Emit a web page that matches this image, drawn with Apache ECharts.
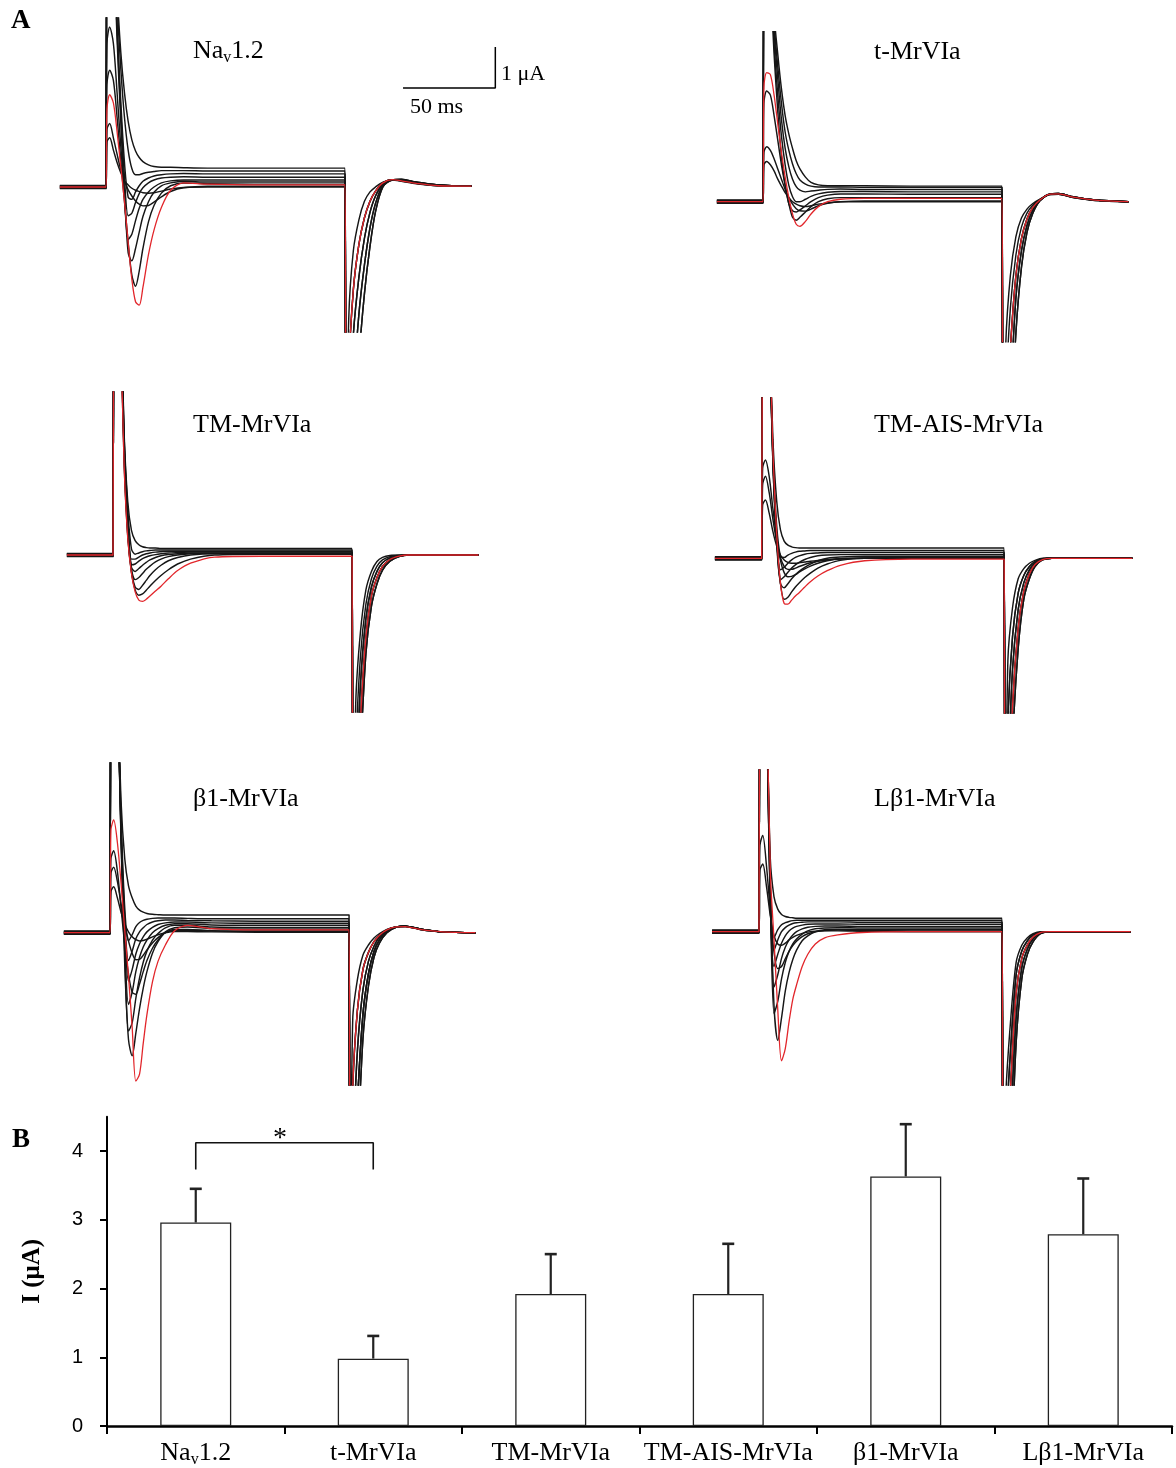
<!DOCTYPE html>
<html><head><meta charset="utf-8">
<script src="https://cdn.jsdelivr.net/npm/echarts@6/dist/echarts.min.js"></script>
<style>html,body{margin:0;padding:0;background:#fff;}#c{width:1176px;height:1468px;}</style>
</head><body><div id="c"></div>
<script>
// ================= DATA =================
// time grid (ms, 0 = onset of test pulse)
const EARLY_T = [-25, 0, 0.5, 2, 4, 6, 8, 10, 12, 14, 16, 18, 20, 23, 26, 30, 35, 42, 55, 80, 129.5];
const TAIL_T = [130, 131.5, 134, 137, 140, 143, 146, 150, 155, 160, 168, 180, 198];

// currents in µA
const nav12Black = [
 [0.03,0.03, 1.1,1.2,0.9,0.6,0.35,0.15,0.05,-0.03,-0.08,-0.11,-0.14,-0.15,-0.14,-0.1,-0.05,-0.01,0,0,0],
 [-0.03,-0.03, 1.4,1.55,1.2,0.8,0.42,0.15,-0.07,-0.22,-0.34,-0.42,-0.46,-0.45,-0.37,-0.24,-0.11,-0.02,0.02,0.02,0.02],
 [0.015,0.015, 2.5,2.85,2.6,1.7,0.65,-0.35,-1.35,-2.15,-2.42,-2.05,-1.5,-0.85,-0.45,-0.15,0.03,0.1,0.08,0.07,0.07],
 [-0.015,-0.015, 3.5,3.9,3.5,2.3,1.0,-0.15,-1.6,-1.8,-1.5,-1.1,-0.72,-0.36,-0.13,0.03,0.1,0.14,0.12,0.12,0.12],
 [0.04,0.04, 8,8,6.1,3.6,1.6,-0.2,-1.28,-1.15,-0.82,-0.52,-0.3,-0.12,0,0.1,0.15,0.17,0.17,0.17,0.17],
 [0,0, 8,8,6.3,3.8,1.85,0.25,-0.7,-0.64,-0.38,-0.16,-0.02,0.1,0.17,0.22,0.24,0.25,0.24,0.24,0.24],
 [-0.04,-0.04, 8,8,6.5,4,2.1,0.6,-0.25,-0.3,-0.12,0.03,0.14,0.22,0.27,0.3,0.32,0.33,0.32,0.32,0.32],
 [0.02,0.02, 8,8,6.8,4.5,2.9,1.7,0.9,0.45,0.3,0.3,0.33,0.36,0.38,0.4,0.4,0.4,0.39,0.39,0.39],
 [-0.02,-0.02, 8,8,7,4.8,3.3,2.3,1.6,1.15,0.88,0.72,0.62,0.54,0.5,0.48,0.48,0.47,0.46,0.46,0.46]
];
const nav12Red = [0,0, 1.9,2.25,2.05,1.35,0.5,-0.35,-1.35,-2.25,-2.8,-2.88,-2.45,-1.65,-1.05,-0.5,-0.08,0.1,0.07,0.05,0.05];
const nav12Tails = [
 [-8,-3.2,-1.55,-0.8,-0.35,-0.12,0,0.12,0.17,0.14,0.08,0.03,0.02],
 [-8,-4.5,-2.5,-1.4,-0.75,-0.35,-0.1,0.1,0.18,0.15,0.09,0.03,0.02],
 [-8,-6,-3.6,-2.2,-1.25,-0.62,-0.22,0.07,0.18,0.17,0.1,0.04,0.02],
 [-8,-7.2,-5,-3.1,-1.9,-1,-0.4,0.04,0.18,0.18,0.11,0.05,0.02],
 [-8,-8,-6.5,-4.2,-2.6,-1.45,-0.6,0,0.17,0.19,0.12,0.05,0.02]
];
const nav12TailOf = [0,4,1,3,2,4,3,2,1];
const nav12RedTail = 1;

const tMrBlack = [
 [0.03,0.03, 0.9,0.98,0.9,0.75,0.55,0.38,0.22,0.1,0,-0.06,-0.1,-0.12,-0.1,-0.06,-0.03,0,0,0,0],
 [-0.03,-0.03, 1.2,1.34,1.25,1.05,0.8,0.55,0.3,0.1,-0.06,-0.17,-0.22,-0.23,-0.18,-0.1,-0.04,0,0.02,0.02,0.02],
 [0.015,0.015, 2.4,2.7,2.6,2.1,1.5,0.9,0.4,-0.05,-0.38,-0.45,-0.38,-0.25,-0.12,0,0.07,0.1,0.1,0.1,0.1],
 [-0.015,-0.015, 8,8,5.5,3.6,2.2,1.1,0.4,-0.05,-0.22,-0.25,-0.2,-0.1,0,0.1,0.16,0.19,0.19,0.18,0.18],
 [0.04,0.04, 8,8,6,3.9,2.6,1.6,0.9,0.4,0.12,0,0,0.06,0.13,0.19,0.23,0.25,0.25,0.24,0.24],
 [0,0, 8,8,6.5,4.2,3,2,1.3,0.85,0.55,0.37,0.28,0.24,0.26,0.28,0.3,0.31,0.3,0.3,0.3],
 [-0.04,-0.04, 8,8,7,4.4,3.3,2.4,1.7,1.25,0.92,0.68,0.53,0.43,0.38,0.36,0.36,0.36,0.35,0.35,0.35],
 [0.02,0.02, 8,8,7.5,4.6,3.6,2.75,2.1,1.65,1.3,1,0.8,0.6,0.47,0.41,0.39,0.39,0.39,0.38,0.38]
];
const tMrRed = [0,0, 2.8,3.15,3.1,2.6,1.9,1.2,0.6,0.1,-0.3,-0.55,-0.6,-0.48,-0.3,-0.12,0,0.06,0.08,0.08,0.08];
const tMrTails = [
 [-8,-3.5,-1.8,-0.85,-0.4,-0.18,-0.05,0.06,0.17,0.18,0.1,0.03,0],
 [-8,-4.8,-2.6,-1.3,-0.62,-0.28,-0.09,0.05,0.17,0.18,0.1,0.03,0],
 [-8,-6,-3.6,-1.8,-0.9,-0.42,-0.15,0.04,0.18,0.19,0.11,0.04,0],
 [-8,-7.3,-4.8,-2.35,-1.2,-0.58,-0.22,0.03,0.18,0.2,0.12,0.04,0],
 [-8,-8,-6,-3.2,-1.6,-0.75,-0.3,0.02,0.18,0.2,0.12,0.04,0]
];
const tMrTailOf = [0,4,1,3,2,4,3,2];
const tMrRedTail = 2;

const tmBlack = [
 [0.03,0.03, 8,8,6.5,3,1.3,0.6,0.35,0.25,0.2,0.18,0.17,0.17,0.16,0.16,0.16,0.16,0.16,0.16,0.16],
 [-0.03,-0.03, 8,8,6.4,2.9,1.1,0.15,0.02,0.05,0.08,0.1,0.11,0.12,0.12,0.12,0.12,0.12,0.12,0.12,0.12],
 [0.015,0.015, 8,8,6.3,2.8,0.9,-0.1,-0.1,-0.05,0,0.03,0.05,0.07,0.08,0.09,0.09,0.09,0.09,0.09,0.09],
 [-0.015,-0.015, 8,8,6.2,2.7,0.8,-0.24,-0.22,-0.15,-0.09,-0.05,-0.02,0.01,0.03,0.05,0.06,0.07,0.07,0.07,0.07],
 [0.04,0.04, 8,8,6.1,2.6,0.7,-0.3,-0.4,-0.33,-0.25,-0.18,-0.12,-0.06,-0.02,0.01,0.03,0.05,0.05,0.05,0.05],
 [0,0, 8,8,6,2.5,0.6,-0.35,-0.6,-0.55,-0.45,-0.35,-0.27,-0.17,-0.1,-0.04,0,0.03,0.04,0.04,0.04],
 [-0.04,-0.04, 8,8,5.9,2.4,0.5,-0.4,-0.78,-0.84,-0.74,-0.62,-0.5,-0.36,-0.25,-0.14,-0.06,0,0.03,0.03,0.03],
 [0.02,0.02, 8,8,5.8,2.3,0.45,-0.42,-0.85,-0.98,-0.95,-0.86,-0.76,-0.62,-0.5,-0.36,-0.22,-0.1,0,0.02,0.02]
];
const tmRed = [0,0, 8,8,5.7,2.2,0.4,-0.45,-0.9,-1.1,-1.13,-1.08,-1,-0.88,-0.76,-0.58,-0.38,-0.2,-0.05,-0.03,-0.03];
const tmTails = [
 [-8,-3.6,-1.9,-0.85,-0.4,-0.16,-0.06,-0.01,0,0,0,0,0],
 [-8,-4.8,-2.5,-1.2,-0.58,-0.27,-0.12,-0.04,-0.01,0,0,0,0],
 [-8,-6,-3.2,-1.55,-0.78,-0.4,-0.19,-0.07,-0.02,0,0,0,0],
 [-8,-7.2,-4.1,-2,-1,-0.55,-0.28,-0.11,-0.03,0,0,0,0],
 [-8,-8,-5,-2.4,-1.25,-0.7,-0.37,-0.15,-0.04,0,0,0,0]
];
const tmTailOf = [0,4,1,3,2,4,3,2];
const tmRedTail = 3;

const aisBlack = [
 [0.03,0.03, 1.3,1.42,1.1,0.65,0.3,0.08,-0.04,-0.1,-0.12,-0.12,-0.11,-0.09,-0.07,-0.05,-0.03,-0.01,0,0,0],
 [-0.03,-0.03, 1.8,2,1.6,0.95,0.4,0.02,-0.2,-0.27,-0.27,-0.24,-0.2,-0.15,-0.11,-0.07,-0.04,-0.01,0,0,0],
 [0.015,0.015, 2.2,2.4,2,1.2,0.5,-0.05,-0.35,-0.45,-0.44,-0.4,-0.34,-0.26,-0.19,-0.12,-0.06,-0.02,0,0,0],
 [-0.015,-0.015, 8,8,5.9,2.5,0.5,-0.6,-1,-0.95,-0.82,-0.7,-0.6,-0.47,-0.36,-0.24,-0.14,-0.05,0.01,0.02,0.02],
 [0.04,0.04, 8,8,5.8,2.4,0.45,-0.62,-0.72,-0.62,-0.5,-0.4,-0.32,-0.22,-0.14,-0.06,0,0.03,0.05,0.05,0.05],
 [0,0, 8,8,5.7,2.3,0.4,-0.52,-0.45,-0.34,-0.24,-0.16,-0.1,-0.03,0.02,0.06,0.08,0.09,0.09,0.09,0.09],
 [-0.04,-0.04, 8,8,5.6,2.3,0.5,-0.28,-0.22,-0.12,-0.04,0.02,0.06,0.1,0.12,0.13,0.14,0.14,0.14,0.14,0.14],
 [0.02,0.02, 8,8,5.6,2.4,0.8,0.05,0.02,0.08,0.12,0.15,0.17,0.18,0.19,0.19,0.19,0.19,0.19,0.19,0.19],
 [-0.02,-0.02, 8,8,5.8,2.9,1.4,0.7,0.42,0.32,0.28,0.26,0.25,0.25,0.25,0.25,0.25,0.25,0.25,0.25,0.25]
];
const aisRed = [0,0, 8,8,6,2.6,0.6,-0.6,-1.1,-1.12,-1.02,-0.92,-0.84,-0.7,-0.57,-0.43,-0.3,-0.17,-0.06,-0.02,-0.02];
const aisTails = [
 [-8,-2.5,-1.2,-0.5,-0.25,-0.12,-0.05,0,0,0,0,0,0],
 [-8,-4,-1.9,-0.85,-0.42,-0.2,-0.08,-0.01,0,0,0,0,0],
 [-8,-5.5,-2.7,-1.25,-0.6,-0.28,-0.11,-0.02,0,0,0,0,0],
 [-8,-7,-3.6,-1.7,-0.8,-0.38,-0.15,-0.03,0,0,0,0,0],
 [-8,-8,-4.5,-2.2,-1,-0.5,-0.2,-0.04,0,0,0,0,0]
];
const aisTailOf = [0,4,1,3,2,4,3,2,1];
const aisRedTail = 3;

const b1Black = [
 [0.03,0.03, 1,1.12,0.85,0.5,0.22,0.02,-0.1,-0.17,-0.2,-0.19,-0.16,-0.1,-0.05,0,0.03,0.03,0.02,0.01,0.01],
 [-0.03,-0.03, 1.45,1.6,1.25,0.7,0.2,-0.2,-0.5,-0.66,-0.65,-0.55,-0.42,-0.25,-0.12,0,0.06,0.06,0.04,0.03,0.03],
 [0.015,0.015, 1.8,2,1.5,0.6,-0.3,-1,-1.45,-1.5,-1.25,-0.95,-0.68,-0.38,-0.18,0,0.08,0.08,0.05,0.04,0.04],
 [-0.015,-0.015, 8,8,6,2.2,-0.8,-2.6,-3.0,-2.45,-1.85,-1.35,-0.95,-0.5,-0.22,0.02,0.12,0.14,0.1,0.09,0.09],
 [0.04,0.04, 8,8,6,2.3,-0.5,-2.4,-2.2,-1.6,-1.1,-0.72,-0.45,-0.18,-0.02,0.12,0.18,0.18,0.14,0.13,0.13],
 [0,0, 8,8,6,2.4,-0.2,-1.75,-1.45,-0.95,-0.6,-0.35,-0.18,0,0.1,0.18,0.22,0.22,0.19,0.18,0.18],
 [-0.04,-0.04, 8,8,6,2.5,0.1,-1.18,-0.9,-0.52,-0.27,-0.1,0.02,0.13,0.2,0.24,0.26,0.26,0.24,0.23,0.23],
 [0.02,0.02, 8,8,6,2.6,0.35,-0.68,-0.45,-0.15,0.02,0.12,0.2,0.26,0.29,0.31,0.31,0.3,0.29,0.28,0.28],
 [0,0, 8,8,6,2.8,0.6,-0.2,-0.05,0.15,0.25,0.3,0.33,0.35,0.36,0.36,0.36,0.35,0.34,0.34,0.34],
 [-0.02,-0.02, 8,8,6.3,3.2,1.8,1.15,0.85,0.65,0.55,0.5,0.47,0.45,0.44,0.43,0.43,0.43,0.43,0.43,0.43]
];
const b1Red = [0,0, 2.5,2.75,2.2,1.2,0.05,-1.05,-2.3,-3.62,-3.45,-2.7,-2,-1.2,-0.7,-0.3,0.05,0.18,0.1,0.07,0.07];
const b1Tails = [
 [-8,-2.1,-1.15,-0.55,-0.3,-0.13,-0.02,0.08,0.14,0.15,0.08,0.02,0],
 [-8,-3.8,-1.9,-0.9,-0.48,-0.22,-0.06,0.07,0.14,0.15,0.08,0.02,0],
 [-8,-5.5,-2.9,-1.4,-0.7,-0.33,-0.1,0.05,0.14,0.16,0.09,0.02,0],
 [-8,-7.2,-4.2,-2,-1,-0.46,-0.17,0.03,0.14,0.16,0.09,0.02,0],
 [-8,-8,-5.5,-2.6,-1.3,-0.6,-0.25,0,0.13,0.16,0.09,0.02,0]
];
const b1TailOf = [0,4,1,3,2,4,3,2,1,3];
const b1RedTail = 1;

const lb1Black = [
 [0.03,0.03, 1.5,1.65,1.1,0.4,-0.1,-0.3,-0.33,-0.28,-0.2,-0.14,-0.09,-0.04,-0.01,0.01,0.02,0.02,0.01,0,0],
 [-0.03,-0.03, 2.1,2.35,1.6,0.5,-0.5,-0.9,-0.85,-0.66,-0.48,-0.34,-0.23,-0.12,-0.05,0,0.03,0.04,0.03,0.02,0.02],
 [0.015,0.015, 8,8,5.8,1.2,-1.8,-2.65,-2.1,-1.45,-1,-0.68,-0.45,-0.22,-0.1,0,0.05,0.06,0.05,0.05,0.05],
 [-0.015,-0.015, 8,8,5.7,1,-2,-1.7,-1.15,-0.75,-0.48,-0.3,-0.18,-0.06,0.02,0.07,0.09,0.1,0.09,0.09,0.09],
 [0.04,0.04, 8,8,5.6,0.9,-1.35,-1.05,-0.65,-0.38,-0.2,-0.08,0,0.07,0.11,0.13,0.14,0.14,0.13,0.13,0.13],
 [0,0, 8,8,5.5,0.7,-0.85,-0.55,-0.28,-0.1,0.02,0.09,0.13,0.16,0.18,0.19,0.19,0.19,0.18,0.18,0.18],
 [-0.04,-0.04, 8,8,5.5,0.8,-0.45,-0.2,0,0.1,0.16,0.2,0.22,0.23,0.24,0.24,0.24,0.24,0.23,0.23,0.23],
 [0.02,0.02, 8,8,5.5,1,-0.15,0.05,0.17,0.22,0.25,0.27,0.28,0.28,0.28,0.28,0.28,0.28,0.28,0.28,0.28],
 [-0.02,-0.02, 8,8,5.7,1.8,0.85,0.55,0.42,0.37,0.35,0.34,0.33,0.33,0.33,0.33,0.33,0.33,0.33,0.33,0.33]
];
const lb1Red = [0,0, 8,8,6,1.5,-0.2,-1.9,-3.15,-2.85,-2.2,-1.65,-1.3,-0.85,-0.55,-0.3,-0.15,-0.08,-0.02,0,0];
const lb1Tails = [
 [-8,-4,-2.2,-0.75,-0.33,-0.15,-0.05,0,0,0,0,0,0],
 [-8,-5,-2.9,-1.05,-0.47,-0.22,-0.08,-0.01,0,0,0,0,0],
 [-8,-6,-3.8,-1.5,-0.65,-0.32,-0.13,-0.02,0,0,0,0,0],
 [-8,-7,-4.8,-2.1,-0.88,-0.42,-0.18,-0.03,0,0,0,0,0],
 [-8,-8,-6,-2.7,-1.15,-0.55,-0.25,-0.05,0,0,0,0,0]
];
const lb1TailOf = [0,4,1,3,2,4,3,2,1];
const lb1RedTail = 2;

// scale bar (panel Na_v1.2)
const scaleBarMs = 50;
const scaleBarUA = 1;

// Panel B
const barCategories = ['Nav1.2', 't-MrVIa', 'TM-MrVIa', 'TM-AIS-MrVIa', 'β1-MrVIa', 'Lβ1-MrVIa'];
const barMeans = [2.96, 0.98, 1.92, 1.92, 3.63, 2.79];
const barSems = [0.49, 0.33, 0.58, 0.73, 0.76, 0.81];
const yTickValues = [0, 1, 2, 3, 4];
const sigFrom = 0, sigTo = 1, sigLeg = 3.73, sigTop = 4.12;

// ================= LAYOUT =================
const PX_PER_UA = 41;
const SERIF = '"Liberation Serif","Times New Roman",serif';
const SANS = '"Liberation Sans",Arial,sans-serif';
const BLACK = '#161616', RED = '#e2262b';

const panels = [
 {title:'{n|Na}{s|v}{n|1.2}', tx:193, ty:51, black:nav12Black, red:nav12Red, tails:nav12Tails, tailOf:nav12TailOf, redTail:nav12RedTail, onset:106, base:187, top:18, bottom:332, pxms:1.846, xmax:213},
 {title:'{n|t-MrVIa}', tx:874, ty:52, black:tMrBlack, red:tMrRed, tails:tMrTails, tailOf:tMrTailOf, redTail:tMrRedTail, onset:763, base:201.7, top:31.7, bottom:341.7, pxms:1.846, xmax:198},
 {title:'{n|TM-MrVIa}', tx:193, ty:425, black:tmBlack, red:tmRed, tails:tmTails, tailOf:tmTailOf, redTail:tmRedTail, onset:113, base:555, top:392, bottom:712, pxms:1.846, xmax:198},
 {title:'{n|TM-AIS-MrVIa}', tx:874, ty:425, black:aisBlack, red:aisRed, tails:aisTails, tailOf:aisTailOf, redTail:aisRedTail, onset:761.7, base:558.3, top:398, bottom:713, pxms:1.872, xmax:198},
 {title:'{n|β1-MrVIa}', tx:193, ty:799, black:b1Black, red:b1Red, tails:b1Tails, tailOf:b1TailOf, redTail:b1RedTail, onset:110, base:932.7, top:763, bottom:1085, pxms:1.846, xmax:198},
 {title:'{n|Lβ1-MrVIa}', tx:874, ty:799, black:lb1Black, red:lb1Red, tails:lb1Tails, tailOf:lb1TailOf, redTail:lb1RedTail, onset:759, base:931.7, top:770, bottom:1085, pxms:1.877, xmax:198}
];

const richText = {
  n: {fontFamily: SERIF, fontSize: 26, lineHeight: 30, color: '#000'},
  s: {fontFamily: SERIF, fontSize: 16, lineHeight: 16, padding: [14, 0, 0, 0], verticalAlign: 'top', color: '#000'}
};

const grids = [], xAxes = [], yAxes = [], series = [], graphics = [];

function traceData(early, tail) {
  const pts = EARLY_T.map((t, i) => [t, early[i]]);
  return pts.concat(TAIL_T.map((t, i) => [t, tail[i]]));
}

panels.forEach((p, gi) => {
  grids.push({left: p.onset - 25 * p.pxms, top: p.top, width: (p.xmax + 25) * p.pxms, height: p.bottom - p.top, outerBoundsMode: 'none'});
  xAxes.push({gridIndex: gi, type: 'value', min: -25, max: p.xmax, show: false});
  yAxes.push({gridIndex: gi, type: 'value', min: -(p.bottom - p.base) / PX_PER_UA, max: (p.base - p.top) / PX_PER_UA, show: false});
  p.black.forEach((tr, k) => {
    series.push({type: 'line', xAxisIndex: gi, yAxisIndex: gi, data: traceData(tr, p.tails[p.tailOf[k]]),
      symbol: 'none', smooth: 0.3, clip: true, silent: true, z: 2,
      lineStyle: {color: BLACK, width: 1.45}});
  });
  series.push({type: 'line', xAxisIndex: gi, yAxisIndex: gi, data: traceData(p.red, p.tails[p.redTail]),
    symbol: 'none', smooth: 0.3, clip: true, silent: true, z: 3,
    lineStyle: {color: RED, width: 1.3}});
  graphics.push({type: 'text', x: p.tx, y: p.ty, style: {text: p.title, rich: richText, textAlign: 'left', textVerticalAlign: 'middle', align: 'left', verticalAlign: 'middle'}});
});

// scale bar in panel 1 data units
const sbT0 = 160.9, sbI0 = 2.415;
series.push({type: 'line', xAxisIndex: 0, yAxisIndex: 0,
  data: [[sbT0, sbI0], [sbT0 + scaleBarMs, sbI0], [sbT0 + scaleBarMs, sbI0 + scaleBarUA]],
  symbol: 'none', silent: true, clip: false, lineStyle: {color: '#000', width: 1.5}, z: 4});
graphics.push({type: 'text', x: 501, y: 74, style: {text: scaleBarUA + ' μA', font: '22px ' + SERIF, fill: '#000', textAlign: 'left', textVerticalAlign: 'middle', align: 'left', verticalAlign: 'middle'}});
graphics.push({type: 'text', x: 410, y: 107, style: {text: scaleBarMs + ' ms', font: '22px ' + SERIF, fill: '#000', textAlign: 'left', textVerticalAlign: 'middle', align: 'left', verticalAlign: 'middle'}});

// panel letters
graphics.push({type: 'text', x: 11, y: 21, style: {text: 'A', font: 'bold 27px ' + SERIF, fill: '#000', textAlign: 'left', textVerticalAlign: 'middle', align: 'left', verticalAlign: 'middle'}});
graphics.push({type: 'text', x: 12, y: 1140, style: {text: 'B', font: 'bold 27px ' + SERIF, fill: '#000', textAlign: 'left', textVerticalAlign: 'middle', align: 'left', verticalAlign: 'middle'}});
graphics.push({type: 'text', x: 280, y: 1139, style: {text: '*', font: '28px ' + SERIF, fill: '#000', textAlign: 'center', textVerticalAlign: 'middle', align: 'center', verticalAlign: 'middle'}});

// ---- Panel B ----
const bg = grids.length;
grids.push({left: 107, top: 1426 - 4.5 * 68.75, width: 1065, height: 4.5 * 68.75, outerBoundsMode: 'none'});
xAxes.push({gridIndex: bg, type: 'category', data: barCategories, boundaryGap: true,
  axisLine: {lineStyle: {color: '#000', width: 2.5}},
  axisTick: {show: true, length: 8, lineStyle: {color: '#000', width: 2}},
  axisLabel: {margin: 12, color: '#000', rich: richText,
    formatter: v => v === 'Nav1.2' ? '{n|Na}{s|v}{n|1.2}' : '{n|' + v + '}'}});
yAxes.push({gridIndex: bg, type: 'value', min: 0, max: 4.5, interval: 1,
  name: 'I (μA)', nameLocation: 'middle', nameRotate: 90, nameGap: 62,
  nameTextStyle: {fontFamily: SERIF, fontWeight: 'bold', fontSize: 25, color: '#000'},
  axisLine: {show: true, lineStyle: {color: '#000', width: 2}},
  axisTick: {show: true, length: 7, customValues: yTickValues, lineStyle: {color: '#000', width: 2}},
  axisLabel: {margin: 24, fontFamily: SANS, fontSize: 20, color: '#000', customValues: yTickValues},
  splitLine: {show: false}});

series.push({type: 'bar', xAxisIndex: bg, yAxisIndex: bg, data: barMeans, barWidth: 71, silent: true,
  itemStyle: {color: '#fff', borderColor: '#222', borderWidth: 1.3}, z: 2});
series.push({type: 'custom', xAxisIndex: bg, yAxisIndex: bg, silent: true, z: 4,
  data: barMeans.map((m, i) => [i, m, m + barSems[i]]),
  encode: {x: 0, y: [1, 2]},
  renderItem: (params, api) => {
    const i = api.value(0);
    const lo = api.coord([i, api.value(1)]);
    const hi = api.coord([i, api.value(2)]);
    return {type: 'group', children: [
      {type: 'line', shape: {x1: lo[0], y1: lo[1], x2: hi[0], y2: hi[1]}, style: {stroke: '#222', lineWidth: 2.2}},
      {type: 'line', shape: {x1: hi[0] - 6, y1: hi[1], x2: hi[0] + 6, y2: hi[1]}, style: {stroke: '#222', lineWidth: 2.6}}
    ]};
  }});
series.push({type: 'line', xAxisIndex: bg, yAxisIndex: bg, silent: true, symbol: 'none', clip: false,
  data: [[sigFrom, sigLeg], [sigFrom, sigTop], [sigTo, sigTop], [sigTo, sigLeg]],
  lineStyle: {color: '#111', width: 1.6}, z: 4});

const chart = echarts.init(document.getElementById('c'), null, {renderer: 'canvas'});
chart.setOption({
  animation: false,
  backgroundColor: '#fff',
  grid: grids, xAxis: xAxes, yAxis: yAxes, series: series, graphic: graphics
});
</script></body></html>
